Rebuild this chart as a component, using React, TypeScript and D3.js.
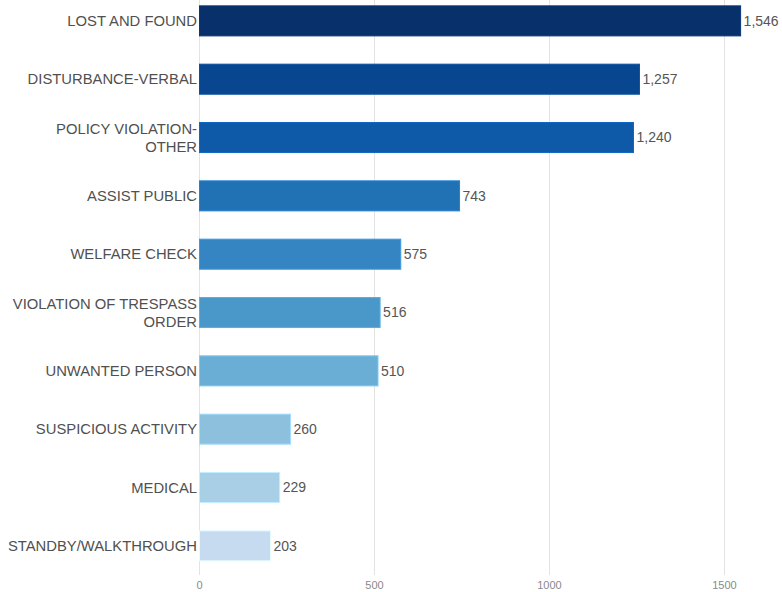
import React from "react";
import * as d3 from "d3";

const categories: string[][] = [
  ["LOST AND FOUND"],
  ["DISTURBANCE-VERBAL"],
  ["POLICY VIOLATION-", "OTHER"],
  ["ASSIST PUBLIC"],
  ["WELFARE CHECK"],
  ["VIOLATION OF TRESPASS", "ORDER"],
  ["UNWANTED PERSON"],
  ["SUSPICIOUS ACTIVITY"],
  ["MEDICAL"],
  ["STANDBY/WALKTHROUGH"],
];
const values: number[] = [1546, 1257, 1240, 743, 575, 516, 510, 260, 229, 203];
const colors: string[] = [
  "#08306b", "#08468f", "#0f5aa8", "#2171b5", "#3585c2",
  "#4a98ca", "#6aaed6", "#8dc0dd", "#a8cfe5", "#c6dbef",
];
const ticks: number[] = [0, 500, 1000, 1500];

const W = 782;
const H = 592;

export default function App() {
  const x = d3.scaleLinear().domain([0, 1500]).range([199.5, 724.5]);
  const y = d3
    .scaleBand<number>()
    .domain(values.map((_, i) => i))
    .range([-8.3, 575])
    .paddingInner(0.485)
    .paddingOuter(0.2425);
  const fmt = d3.format(",");
  const font = "'Liberation Sans', Arial, sans-serif";
  return (
    <svg
      width={W}
      height={H}
      style={{ position: "absolute", left: 0, top: 0, background: "#fff" }}
      fontFamily={font}
    >
      {ticks.map((t) => (
        <g key={t}>
          <line x1={x(t)} x2={x(t)} y1={0} y2={575} stroke="#e3e3e3" strokeWidth={1} />
          <text x={x(t)} y={589} textAnchor="middle" fontSize={11} fill="#8a8a8a">
            {t}
          </text>
        </g>
      ))}
      {values.map((v, i) => {
        const y0 = y(i)!;
        const bh = y.bandwidth();
        const cy = y0 + bh / 2;
        const lines = categories[i];
        const lh = 18;
        return (
          <g key={i}>
            <rect
              x={x(0)}
              y={y0}
              width={x(v) - x(0)}
              height={bh}
              fill={colors[i]}
              stroke={d3.color(colors[i])!.brighter(0.4).formatHex()}
              strokeWidth={1}
            />
            <text x={x(v) + 3} y={cy} dy="0.35em" fontSize={14} fill="#555">
              {fmt(v)}
            </text>
            {lines.map((l, j) => (
              <text
                key={j}
                x={197}
                y={cy + (j - (lines.length - 1) / 2) * lh}
                dy="0.35em"
                textAnchor="end"
                fontSize={14.8}
                fill="#505050"
              >
                {l}
              </text>
            ))}
          </g>
        );
      })}
    </svg>
  );
}
